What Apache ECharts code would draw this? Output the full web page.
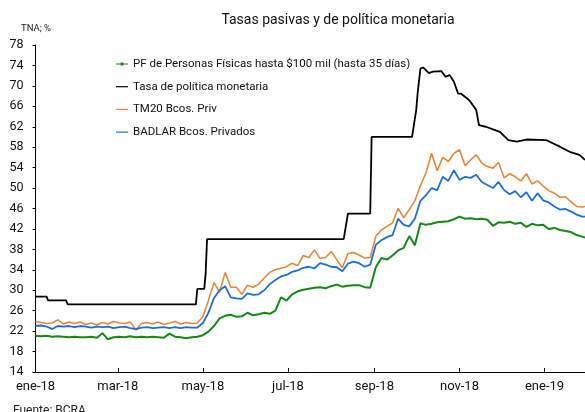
<!DOCTYPE html>
<html>
<head>
<meta charset="utf-8">
<script src="https://cdn.jsdelivr.net/npm/echarts@6/dist/echarts.min.js"></script>
<style>
  html, body { margin: 0; padding: 0; background: #fff; }
  #chart { width: 585px; height: 412px; }
</style>
</head>
<body>
<div id="chart"></div>
<script>
// fechas de muestreo (cada 4 días aprox.)
const dates = [
  '2018-01-01','2018-01-05','2018-01-09','2018-01-13','2018-01-17','2018-01-21','2018-01-25','2018-01-29',
  '2018-02-02','2018-02-06','2018-02-10','2018-02-14','2018-02-18','2018-02-22','2018-02-26',
  '2018-03-02','2018-03-06','2018-03-10','2018-03-14','2018-03-18','2018-03-22','2018-03-26','2018-03-30',
  '2018-04-03','2018-04-07','2018-04-11','2018-04-15','2018-04-19','2018-04-23','2018-04-27',
  '2018-05-01','2018-05-05','2018-05-09','2018-05-13','2018-05-17','2018-05-21','2018-05-25','2018-05-29',
  '2018-06-02','2018-06-06','2018-06-10','2018-06-14','2018-06-18','2018-06-22','2018-06-26','2018-06-30',
  '2018-07-04','2018-07-08','2018-07-12','2018-07-16','2018-07-20','2018-07-24','2018-07-28',
  '2018-08-01','2018-08-05','2018-08-09','2018-08-13','2018-08-17','2018-08-21','2018-08-25','2018-08-29',
  '2018-09-02','2018-09-06','2018-09-10','2018-09-14','2018-09-18','2018-09-22','2018-09-26','2018-09-30',
  '2018-10-04','2018-10-08','2018-10-12','2018-10-16','2018-10-20','2018-10-24','2018-10-28',
  '2018-11-01','2018-11-05','2018-11-09','2018-11-13','2018-11-17','2018-11-21','2018-11-25','2018-11-29',
  '2018-12-03','2018-12-07','2018-12-11','2018-12-15','2018-12-19','2018-12-23','2018-12-27','2018-12-31',
  '2019-01-04','2019-01-08','2019-01-12','2019-01-16','2019-01-20','2019-01-24','2019-01-28','2019-01-30'
]

// PF de Personas Físicas hasta $100 mil (hasta 35 días)
const pfValues = [
  21.1, 21.0, 21.1, 20.9, 21.0, 20.9, 20.8, 20.9,
  20.8, 20.8, 20.9, 20.7, 21.6, 20.4, 20.8,
  20.9, 20.8, 21.0, 20.8, 20.9, 20.8, 20.9, 20.8,
  20.7, 21.5, 20.9, 20.8, 20.6, 20.8, 20.9,
  21.2, 21.9, 23.0, 24.5, 25.0, 25.2, 24.8, 24.9,
  25.6, 25.1, 25.3, 25.6, 25.4, 26.0, 28.6, 28.0,
  29.2, 29.8, 30.1, 30.3, 30.5, 30.6, 30.4,
  30.8, 31.1, 30.7, 30.9, 31.0, 31.0, 30.6, 30.5,
  34.5, 36.3, 36.0, 36.8, 37.8, 38.3, 40.6, 38.8,
  43.1, 42.8, 43.0, 43.3, 43.4, 43.5, 43.9,
  44.4, 44.0, 44.1, 43.9, 44.0, 43.8, 42.6, 43.3,
  43.2, 43.4, 43.0, 43.2, 42.4, 43.0, 42.7, 42.8,
  42.0, 42.2, 41.8, 41.6, 41.4, 40.8, 40.5, 40.3
]

// TM20 Bcos. Priv
const tm20Values = [
  23.9, 23.7, 23.5, 23.6, 24.2, 23.4, 23.8, 23.5,
  23.8, 23.3, 23.6, 23.2, 23.7, 23.4, 23.9,
  23.6, 23.5, 23.8, 22.2, 23.5, 23.7, 23.4, 23.8,
  23.3, 23.6, 23.9, 23.4, 23.7, 23.5, 23.6,
  24.8, 28.0, 31.5, 29.6, 33.5, 30.6, 30.6, 29.2,
  31.0, 30.6, 31.2, 32.4, 33.5, 34.0, 34.3, 34.6,
  35.3, 34.8, 36.8, 36.4, 37.9, 36.2, 36.4,
  37.6, 36.0, 34.4, 37.2, 37.4, 36.9, 36.3, 36.4,
  40.6, 41.8, 42.5, 43.2, 46.0, 44.2, 45.8, 47.5,
  50.5, 53.0, 56.8, 53.4, 56.0, 55.2, 56.8,
  57.5, 54.4, 55.5, 56.5, 54.9, 54.2, 53.9, 55.0,
  52.0, 52.8, 52.2, 51.4, 52.8, 50.8, 51.4, 50.4,
  49.5, 49.0, 48.2, 48.3, 47.3, 46.4, 46.3, 46.4
]

// BADLAR Bcos. Privados
const badlarValues = [
  23.0, 23.1, 22.9, 22.4, 23.0, 22.9, 23.0, 22.8,
  23.0, 22.9, 22.7, 22.9, 22.8, 22.9, 22.6,
  22.8, 22.9, 22.6, 22.4, 22.7, 22.8, 22.6, 22.7,
  22.8, 22.6, 22.8, 22.6, 22.8, 22.7, 22.7,
  23.6, 25.6, 28.5, 30.0, 30.8, 28.6, 28.4, 28.3,
  29.4, 29.1, 29.2, 30.0, 31.2, 32.0, 32.7, 33.0,
  33.6, 33.9, 34.4, 34.6, 34.3, 35.3, 35.0,
  34.6, 34.5, 33.7, 35.2, 35.6, 35.3, 34.6, 35.0,
  38.9, 39.8, 40.4, 40.8, 44.0, 42.8, 42.5, 44.0,
  47.5, 48.6, 50.0, 49.6, 52.2, 51.4, 53.5,
  51.6, 52.2, 52.0, 52.6, 51.2, 50.6, 50.0, 51.2,
  49.6, 48.8, 49.4, 48.2, 49.2, 47.5, 49.0, 47.6,
  47.2, 46.4, 45.8, 45.9, 45.4, 44.8, 44.4, 44.4
]

// Tasa de política monetaria (con escalones)
const rateDates = [
  '2018-01-01','2018-01-09','2018-01-10','2018-01-23','2018-01-24','2018-04-26','2018-04-27',
  '2018-05-02','2018-05-03','2018-05-04','2018-08-10','2018-08-13','2018-08-29','2018-08-30',
  '2018-09-28','2018-10-01','2018-10-02','2018-10-04','2018-10-06','2018-10-10','2018-10-13',
  '2018-10-19','2018-10-22','2018-10-25','2018-10-28','2018-10-31','2018-11-02','2018-11-08',
  '2018-11-13','2018-11-15','2018-11-20','2018-11-26','2018-11-30','2018-12-06','2018-12-12',
  '2018-12-19','2019-01-02','2019-01-12','2019-01-19','2019-01-26','2019-01-30'
]
const rateValues = [
  28.75, 28.75, 28, 28, 27.25, 27.25, 30.25,
  30.25, 33.25, 40, 40, 45, 45, 60,
  60, 65.3, 68.6, 73.4, 73.6, 72.5, 72.8,
  72.9, 71.8, 72.1, 70.8, 68.5, 68.5, 67.2,
  65.3, 62.3, 62.0, 61.4, 61.0, 59.4, 59.1,
  59.5, 59.4, 58.1, 57.1, 56.5, 55.5
]

// ejes
const tickDates = ['2018-01-01','2018-03-01','2018-05-01','2018-07-01','2018-09-01','2018-11-01','2019-01-01']
const tickLabels = ['ene-18','mar-18','may-18','jul-18','sep-18','nov-18','ene-19']

const parseDay = s => {
  const p = s.split('-').map(Number)
  return Date.UTC(p[0], p[1] - 1, p[2])
}
const tickTimes = tickDates.map(parseDay)
const pairs = (ds, vs) => ds.map((d, i) => [parseDay(d), vs[i]])

const chart = echarts.init(document.getElementById('chart'), null, { renderer: 'canvas' })

const font = 'Roboto, "Noto Sans", sans-serif'

// iconos de la leyenda: línea simple y línea con marcador
const lineIcon = 'path://M0,2.4H12V3.6H0Z'
const dotIcon = 'path://M0,2.4H12V3.6H0Z M4.6,1.6H7.4V4.4H4.6Z'

const option = {
  animation: false,
  backgroundColor: '#fff',
  textStyle: { fontFamily: font },
  title: {
    text: 'Tasas pasivas y de política monetaria',
    left: 333,
    textAlign: 'center',
    top: 8,
    textStyle: { fontSize: 14, fontWeight: 'normal', color: '#111', fontFamily: font },
  },
  graphic: [
    { type: 'text', left: 21, top: 24, style: { text: 'TNA; %', fontSize: 9.5, fill: '#222', fontFamily: font } },
    { type: 'text', left: 13, top: 405, style: { text: 'Fuente: BCRA', fontSize: 12, fill: '#222', fontFamily: font } },
  ],
  legend: {
    orient: 'vertical',
    left: 111,
    top: 53,
    itemWidth: 12,
    itemHeight: 6,
    itemGap: 10.7,
    textStyle: { fontSize: 11.5, color: '#111', fontFamily: font },
    data: [
      { name: 'PF de Personas Físicas hasta $100 mil (hasta 35 días)', icon: dotIcon },
      { name: 'Tasa de política monetaria', icon: lineIcon },
      { name: 'TM20 Bcos. Priv', icon: lineIcon },
      { name: 'BADLAR Bcos. Privados', icon: lineIcon },
    ],
  },
  grid: { left: 35.5, right: 0, top: 45, bottom: 40, containLabel: false },
  xAxis: {
    type: 'value',
    min: parseDay('2018-01-01'),
    max: parseDay('2019-01-30'),
    axisLine: { show: true, lineStyle: { color: '#000', width: 1 } },
    axisTick: { show: true, inside: true, length: 4, customValues: tickTimes, lineStyle: { color: '#000' } },
    axisLabel: {
      customValues: tickTimes,
      margin: 8,
      fontSize: 13,
      color: '#111',
      fontFamily: font,
      formatter: v => {
        const i = tickTimes.indexOf(v)
        return i >= 0 ? tickLabels[i] : ''
      },
    },
    splitLine: { show: false },
  },
  yAxis: {
    type: 'value',
    min: 14,
    max: 78,
    interval: 4,
    axisLine: { show: true, lineStyle: { color: '#000', width: 1 } },
    axisTick: { show: true, length: 3, lineStyle: { color: '#000' } },
    axisLabel: { margin: 12, fontSize: 12.5, color: '#111', fontFamily: font },
    splitLine: { show: false },
  },
  series: [
    {
      name: 'PF de Personas Físicas hasta $100 mil (hasta 35 días)',
      type: 'line',
      data: pairs(dates, pfValues),
      symbol: 'none',
      lineStyle: { color: '#138a13', width: 2 },
      itemStyle: { color: '#138a13' },
      z: 4,
    },
    {
      name: 'Tasa de política monetaria',
      type: 'line',
      data: pairs(rateDates, rateValues),
      symbol: 'none',
      lineStyle: { color: '#000', width: 1.8 },
      itemStyle: { color: '#000' },
      z: 3,
    },
    {
      name: 'TM20 Bcos. Priv',
      type: 'line',
      data: pairs(dates, tm20Values),
      symbol: 'none',
      lineStyle: { color: '#e8873a', width: 1.6 },
      itemStyle: { color: '#e8873a' },
      z: 2,
    },
    {
      name: 'BADLAR Bcos. Privados',
      type: 'line',
      data: pairs(dates, badlarValues),
      symbol: 'none',
      lineStyle: { color: '#1c6fd6', width: 1.8 },
      itemStyle: { color: '#1c6fd6' },
      z: 3,
    },
  ],
}

chart.setOption(option)

window.addEventListener('resize', () => chart.resize())
</script>
</body>
</html>
